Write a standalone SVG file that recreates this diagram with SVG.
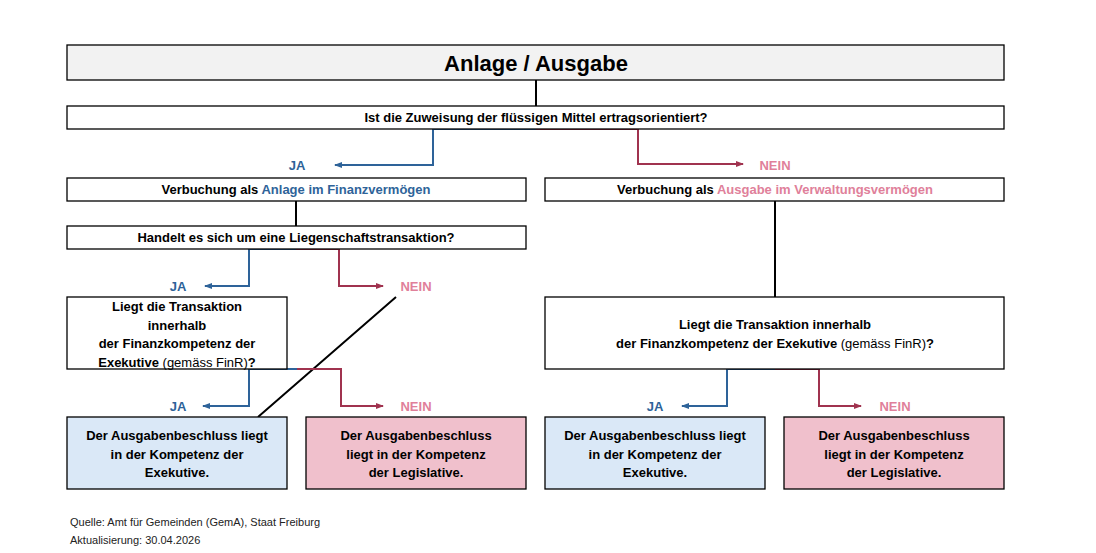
<svg xmlns="http://www.w3.org/2000/svg" width="1096" height="553" viewBox="0 0 1096 553">
<style>
.b{stroke:#000;stroke-width:1.3}
.t{font-family:"Liberation Sans",Arial,sans-serif;font-weight:bold;font-size:13px;text-anchor:middle;fill:#000}
.bl{fill:#2e6399}.pk{fill:#e0809a}.n{font-weight:normal}
.cb{fill:none;stroke:#2e6399;stroke-width:2}
.cr{fill:none;stroke:#a0334f;stroke-width:2}
.f{font-family:"Liberation Sans",Arial,sans-serif;font-size:11px;fill:#222}
</style>
<defs>
<marker id="ab" markerWidth="8" markerHeight="8" refX="7" refY="4" orient="auto" markerUnits="userSpaceOnUse"><path d="M0,1 L8,4 L0,7Z" fill="#2e6399"/></marker>
<marker id="ar" markerWidth="8" markerHeight="8" refX="7" refY="4" orient="auto" markerUnits="userSpaceOnUse"><path d="M0,1 L8,4 L0,7Z" fill="#a0334f"/></marker>
</defs>
<rect width="1096" height="553" fill="#fff"/>
<g id="connectors">
<path d="M536,80V106M296,201V226M775,201V297M396,297L258,417" stroke="#000" stroke-width="2" fill="none"/>
<path class="cb" d="M536,129H433V165H335" marker-end="url(#ab)"/>
<path class="cr" d="M536,129H638V164H743" marker-end="url(#ar)"/>
<path class="cb" d="M296,249H249V286H205" marker-end="url(#ab)"/>
<path class="cr" d="M296,249H339V286H383" marker-end="url(#ar)"/>
<path class="cb" d="M297,369H249V406H203" marker-end="url(#ab)"/>
<path class="cr" d="M297,369H341V406H383" marker-end="url(#ar)"/>
<path class="cb" d="M775,369H727V406H682" marker-end="url(#ab)"/>
<path class="cr" d="M775,369H819V406H861" marker-end="url(#ar)"/>
</g>
<g id="title"><rect class="b" x="67" y="45" width="937" height="35" fill="#f2f2f2"/><text class="t" x="536" y="71" style="font-size:22px">Anlage / Ausgabe</text></g>
<g id="q1"><rect class="b" x="67" y="106" width="937" height="23" fill="#fff"/><text class="t" x="536" y="122">Ist die Zuweisung der flüssigen Mittel ertragsorientiert?</text></g>
<g id="labels1"><text class="t bl" x="297" y="170">JA</text><text class="t pk" x="775" y="170">NEIN</text></g>
<g id="anlage"><rect class="b" x="67" y="178" width="459" height="23" fill="#fff"/><text class="t" x="296" y="194">Verbuchung als <tspan class="bl">Anlage im Finanzvermögen</tspan></text></g>
<g id="ausgabe"><rect class="b" x="545" y="178" width="459" height="23" fill="#fff"/><text class="t" x="775" y="194">Verbuchung als <tspan class="pk">Ausgabe im Verwaltungsvermögen</tspan></text></g>
<g id="q2"><rect class="b" x="67" y="226" width="459" height="23" fill="#fff"/><text class="t" x="296" y="242">Handelt es sich um eine Liegenschaftstransaktion?</text></g>
<g id="labels2"><text class="t bl" x="178" y="291">JA</text><text class="t pk" x="416" y="291">NEIN</text></g>
<g id="q3"><rect class="b" x="67" y="297" width="220" height="72" fill="#fff"/>
<text class="t" x="177" y="311">Liegt die Transaktion</text><text class="t" x="177" y="330">innerhalb</text><text class="t" x="177" y="348">der Finanzkompetenz der</text><text class="t" x="177" y="367">Exekutive <tspan class="n">(gemäss FinR)</tspan>?</text></g>
<g id="q4"><rect class="b" x="545" y="297" width="459" height="72" fill="#fff"/>
<text class="t" x="775" y="329">Liegt die Transaktion innerhalb</text><text class="t" x="775" y="348">der Finanzkompetenz der Exekutive <tspan class="n">(gemäss FinR)</tspan>?</text></g>
<g id="labels3"><text class="t bl" x="178" y="411">JA</text><text class="t pk" x="416" y="411">NEIN</text><text class="t bl" x="655" y="411">JA</text><text class="t pk" x="895" y="411">NEIN</text></g>
<g id="exe1"><rect class="b" x="67" y="417" width="220" height="72" fill="#dae8f7"/><text class="t" x="177" y="440">Der Ausgabenbeschluss liegt</text><text class="t" x="177" y="459">in der Kompetenz der</text><text class="t" x="177" y="477">Exekutive.</text></g>
<g id="leg1"><rect class="b" x="306" y="417" width="220" height="72" fill="#f0c0cc"/><text class="t" x="416" y="440">Der Ausgabenbeschluss</text><text class="t" x="416" y="459">liegt in der Kompetenz</text><text class="t" x="416" y="477">der Legislative.</text></g>
<g id="exe2"><rect class="b" x="545" y="417" width="220" height="72" fill="#dae8f7"/><text class="t" x="655" y="440">Der Ausgabenbeschluss liegt</text><text class="t" x="655" y="459">in der Kompetenz der</text><text class="t" x="655" y="477">Exekutive.</text></g>
<g id="leg2"><rect class="b" x="784" y="417" width="220" height="72" fill="#f0c0cc"/><text class="t" x="894" y="440">Der Ausgabenbeschluss</text><text class="t" x="894" y="459">liegt in der Kompetenz</text><text class="t" x="894" y="477">der Legislative.</text></g>
<g id="footer"><text class="f" x="70" y="526">Quelle: Amt für Gemeinden (GemA), Staat Freiburg</text><text class="f" x="70" y="544">Aktualisierung: 30.04.2026</text></g>
</svg>
